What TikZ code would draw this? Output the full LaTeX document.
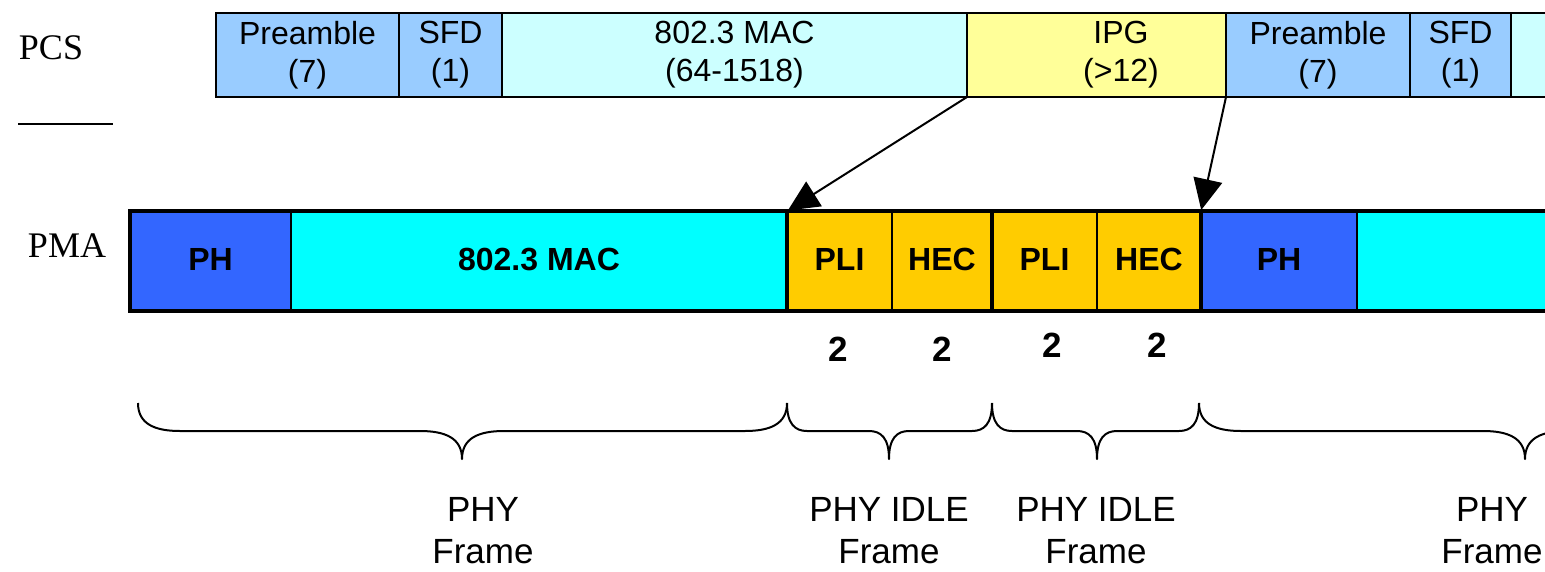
\documentclass[tikz,border=0pt]{standalone}
\usepackage{fontspec}
\setmainfont{Liberation Sans}
\newfontfamily\arialf{Liberation Sans}
\newfontfamily\serf{Liberation Serif}
\usetikzlibrary{arrows.meta}
\definecolor{preblue}{HTML}{99CCFF}
\definecolor{lmac}{HTML}{CCFFFF}
\definecolor{ipgy}{HTML}{FFFF99}
\definecolor{phblue}{HTML}{3366FF}
\definecolor{macc}{HTML}{00FFFF}
\definecolor{plio}{HTML}{FFCC00}
\tikzset{
  pcscell/.style={draw=black, line width=2pt, inner sep=0pt, outer sep=0pt, minimum height=84pt,
    align=center, font=\arialf\fontsize{32}{38}\selectfont},
  pmacell/.style={draw=black, line width=2pt, inner sep=0pt, outer sep=0pt, minimum height=100pt,
    font=\arialf\bfseries\fontsize{32}{38}\selectfont},
  thickdiv/.style={line width=4.8pt},
  lbl/.style={font=\serf\fontsize{36}{40}\selectfont, inner sep=0pt},
  num/.style={font=\arialf\bfseries\fontsize{35}{40}\selectfont, inner sep=0pt},
  frlbl/.style={font=\arialf\fontsize{35}{42}\selectfont, align=center, inner sep=0pt},
  arr/.style={line width=2pt, -{Triangle[length=31pt,width=29pt]}, shorten >=1pt},
  bracestyle/.style={line width=2pt, line join=round}
}
\newcommand\mybrc[4]{%
  \draw[bracestyle] (#1,403) .. controls (#1,424) and ({#1+0.4*#4},431) .. ({#1+#4},431)
    -- ({#3-#4},431) .. controls ({#3-0.4*#4},431) and (#3,438) .. (#3,459)
    .. controls (#3,438) and ({#3+0.4*#4},431) .. ({#3+#4},431)
    -- ({#2-#4},431) .. controls ({#2-0.4*#4},431) and (#2,424) .. (#2,403);}
\newcommand\up[1]{\raisebox{4pt}{#1}}
\begin{document}
\begin{tikzpicture}[x=1pt,y=-1pt]
\useasboundingbox (0,0) rectangle (1545,571);
\clip (0,0) rectangle (1545,571);
\fill[white] (0,0) rectangle (1545,571);
% labels
\node[lbl] (pcs) at (51,48) {PCS};
\coordinate (ln1) at (18,124);
\coordinate (ln2) at (113,124);
\draw[line width=2pt] (ln1) -- (ln2);
\node[lbl] (pma) at (67,246) {PMA};
% PCS row
\node[pcscell, fill=preblue, minimum width=183pt] (pre1) at (307.5,55) {Preamble\\(7)};
\node[pcscell, fill=preblue, minimum width=103pt] (sfd1) at (450.5,55) {SFD\\(1)};
\node[pcscell, fill=lmac, minimum width=465pt] (mac1) at (734.5,55) {802.3 MAC\\(64-1518)};
\node[pcscell, fill=ipgy, minimum width=259pt] (ipg) at (1096.5,55) {};
\node[font=\arialf\fontsize{32}{38}\selectfont, align=center, inner sep=0pt] (ipgt) at (1121,55) {IPG\\(>12)};
\node[pcscell, fill=preblue, minimum width=184pt] (pre2) at (1318,55) {Preamble\\(7)};
\node[pcscell, fill=preblue, minimum width=101pt] (sfd2) at (1460.5,55) {SFD\\(1)};
\node[pcscell, fill=lmac, minimum width=189pt] (mac2) at (1605.5,55) {};
% PMA row
\node[pmacell, fill=phblue, minimum width=161pt] (ph1) at (210.5,261) {\up{PH}};
\node[pmacell, fill=macc, minimum width=496pt] (mac) at (539,261) {\up{802.3 MAC}};
\node[pmacell, fill=plio, minimum width=105pt] (pli1) at (839.5,261) {\up{PLI}};
\node[pmacell, fill=plio, minimum width=100pt] (hec1) at (942,261) {\up{HEC}};
\node[pmacell, fill=plio, minimum width=105pt] (pli2) at (1044.5,261) {\up{PLI}};
\node[pmacell, fill=plio, minimum width=104pt] (hec2) at (1149,261) {\up{HEC}};
\node[pmacell, fill=phblue, minimum width=156pt] (ph2) at (1279,261) {\up{PH}};
\node[pmacell, fill=macc, minimum width=343pt] (mac3) at (1528.5,261) {};
\draw[thickdiv] (ph1.north west) rectangle (mac3.south east);
\draw[thickdiv] (pli1.north west) -- (pli1.south west);
\draw[thickdiv] (pli2.north west) -- (pli2.south west);
\draw[thickdiv] (ph2.north west) -- (ph2.south west);
% arrows
\draw[arr] (ipg.south west) -- (pli1.north west);
\draw[arr] (pre2.south west) -- (ph2.north west);
% numbers
\node[num] (n1) at (838,349) {2};
\node[num] (n2) at (942,349) {2};
\node[num] (n3) at (1052,345) {2};
\node[num] (n4) at (1157,345) {2};
% braces
\mybrc{138}{787}{462}{42}
\mybrc{787}{992}{889}{20}
\mybrc{992}{1199}{1097}{20}
\mybrc{1199}{1851}{1525}{42}
% frame labels
\node[frlbl] (f1) at (483,531) {PHY\\Frame};
\node[frlbl] (f2) at (889,531) {PHY IDLE\\Frame};
\node[frlbl] (f3) at (1096,531) {PHY IDLE\\Frame};
\node[frlbl] (f4) at (1492,531) {PHY\\Frame};
\end{tikzpicture}
\end{document}
